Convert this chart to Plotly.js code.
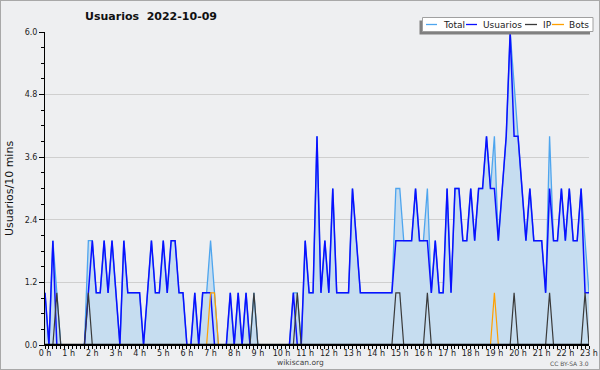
<!DOCTYPE html>
<html>
<head>
<meta charset="utf-8">
<script src="https://cdn.plot.ly/plotly-3.0.1.min.js"></script>
<style>
  html, body { margin: 0; padding: 0; background: #eeeff1; }
  #wrap { position: relative; width: 600px; height: 370px; }
  #chart { width: 600px; height: 370px; }
  #frame { position: absolute; left: 0; top: 0; width: 600px; height: 370px; box-sizing: border-box; border: 1px solid #a8a8a8; pointer-events: none; }
</style>
</head>
<body>
<div id="wrap"><div id="chart"></div><div id="frame"></div></div>
<script>
// ---- data: one value per 10-minute slot, starting at 0 h ----
const stepMinutes = 10;
const total = [
  1,0,2,1,0,0,0,0,0,0,
  0,2,2,1,1,2,1,2,1,0,
  2,1,1,1,1,0,1,2,1,1,
  2,1,2,2,1,1,0,0,1,0,
  1,1,2,1,0,0,0,1,0,1,
  0,1,0,1,0,0,0,0,0,0,
  0,0,0,1,1,0,2,1,1,4,
  1,2,1,3,1,1,1,1,3,2,
  1,1,1,1,1,1,1,1,1,3,
  3,2,2,2,3,2,2,3,1,2,
  1,1,3,1,3,3,2,2,3,2,
  3,3,4,3,4,2,3,4,6,5,
  4,3,2,3,2,2,2,1,4,2,
  2,3,2,3,2,2,3,2,1
];
const usuarios = [
  1,0,2,0,0,0,0,0,0,0,
  0,1,2,1,1,2,1,2,1,0,
  2,1,1,1,1,0,1,2,1,1,
  2,1,2,2,1,1,0,0,1,0,
  1,1,1,0,0,0,0,1,0,1,
  0,1,0,0,0,0,0,0,0,0,
  0,0,0,1,0,0,2,1,1,4,
  1,2,1,3,1,1,1,1,3,2,
  1,1,1,1,1,1,1,1,1,2,
  2,2,2,2,3,2,2,2,1,2,
  1,1,3,1,3,3,2,2,3,2,
  3,3,4,3,3,2,3,4,6,4,
  4,3,2,3,2,2,2,1,3,2,
  2,3,2,3,2,2,3,1,1
];
const ip = [
  0,0,0,1,0,0,0,0,0,0,
  0,1,0,0,0,0,0,0,0,0,
  0,0,0,0,0,0,0,0,0,0,
  0,0,0,0,0,0,0,0,0,0,
  0,0,0,0,0,0,0,0,0,0,
  0,0,0,1,0,0,0,0,0,0,
  0,0,0,0,1,0,0,0,0,0,
  0,0,0,0,0,0,0,0,0,0,
  0,0,0,0,0,0,0,0,0,1,
  1,0,0,0,0,0,0,1,0,0,
  0,0,0,0,0,0,0,0,0,0,
  0,0,0,0,0,0,0,0,0,1,
  0,0,0,0,0,0,0,0,1,0,
  0,0,0,0,0,0,0,1,0
];
const bots = [
  0,0,0,0,0,0,0,0,0,0,
  0,0,0,0,0,0,0,0,0,0,
  0,0,0,0,0,0,0,0,0,0,
  0,0,0,0,0,0,0,0,0,0,
  0,0,1,1,0,0,0,0,0,0,
  0,0,0,0,0,0,0,0,0,0,
  0,0,0,0,0,0,0,0,0,0,
  0,0,0,0,0,0,0,0,0,0,
  0,0,0,0,0,0,0,0,0,0,
  0,0,0,0,0,0,0,0,0,0,
  0,0,0,0,0,0,0,0,0,0,
  0,0,0,0,1,0,0,0,0,0,
  0,0,0,0,0,0,0,0,0,0,
  0,0,0,0,0,0,0,0,0
];
const seriesNames = ['Total', 'Usuarios', 'IP', 'Bots'];
const hourTicks = [0,1,2,3,4,5,6,7,8,9,10,11,12,13,14,15,16,17,18,19,20,21,22,23];
const hourLabels = hourTicks.map(h => h + ' h');
const yTicks = [0, 1.2, 2.4, 3.6, 4.8, 6.0];
const yLabels = ['0.0', '1.2', '2.4', '3.6', '4.8', '6.0'];
const titleText = 'Usuarios\u00a0\u00a02022-10-09';

// x in hours from slot index
const slotHours = total.map((_, i) => i * stepMinutes / 60);

// ---- styling ----
const colors = { Total: '#4ea5ee', Usuarios: '#0a10ff', IP: '#3a3a3a', Bots: '#ffa000' };
const BG = '#eeeff1';
const FONT = 'DejaVu Sans, Verdana, sans-serif';

const W = 600, H = 370;
const M = { l: 45, r: 11, t: 32, b: 25 };
const PW = W - M.l - M.r, PH = H - M.t - M.b;
const px = x => (x - M.l) / PW;
const py = y => (H - M.b - y) / PH;

const traces = [
  { x: slotHours, y: total, name: seriesNames[0], type: 'scatter', mode: 'lines',
    fill: 'tozeroy', fillcolor: '#c6ddf0', line: { color: colors.Total, width: 1.3 } },
  { x: slotHours, y: usuarios, name: seriesNames[1], type: 'scatter', mode: 'lines',
    line: { color: colors.Usuarios, width: 1.5 } },
  { x: slotHours, y: ip, name: seriesNames[2], type: 'scatter', mode: 'lines',
    line: { color: colors.IP, width: 1.2 } },
  { x: slotHours, y: bots, name: seriesNames[3], type: 'scatter', mode: 'lines',
    line: { color: colors.Bots, width: 1.2 } }
];

// legend drawn by hand (compact pChart-like box)
const lgBox = { x0: 422.5, x1: 593, y0: 17.5, y1: 31.5 };
const lgY = 24.5;
const lgItems = [
  { name: seriesNames[0], lx0: 426, lx1: 437, tx: 441.5 },
  { name: seriesNames[1], lx0: 466, lx1: 477, tx: 482 },
  { name: seriesNames[2], lx0: 525, lx1: 537, tx: 541.5 },
  { name: seriesNames[3], lx0: 552, lx1: 564, tx: 567.5 }
];
const shapes = [
  // baseline drawn over the zero-valued lines, like the axis in the original
  { type: 'line', xref: 'paper', yref: 'paper', layer: 'above',
    x0: 0, x1: 1, y0: py(344.6), y1: py(344.6), line: { color: '#000', width: 1.6 } },
  { type: 'rect', xref: 'paper', yref: 'paper', layer: 'above',
    x0: px(lgBox.x0 - 3), x1: px(lgBox.x1 - 3), y0: py(lgBox.y0 + 3), y1: py(lgBox.y1 + 3),
    fillcolor: '#808080', line: { width: 0 } },
  { type: 'rect', xref: 'paper', yref: 'paper', layer: 'above',
    x0: px(lgBox.x0), x1: px(lgBox.x1), y0: py(lgBox.y0), y1: py(lgBox.y1),
    fillcolor: '#ffffff', line: { color: '#a0a0a0', width: 1 } }
];
const annotations = [];
lgItems.forEach(it => {
  shapes.push({ type: 'line', xref: 'paper', yref: 'paper', layer: 'above',
    x0: px(it.lx0), x1: px(it.lx1), y0: py(lgY), y1: py(lgY),
    line: { color: colors[it.name], width: 1.3 } });
  annotations.push({ xref: 'paper', yref: 'paper', x: px(it.tx), y: py(lgY),
    xanchor: 'left', yanchor: 'middle', showarrow: false, text: it.name,
    font: { family: FONT, size: 9, color: '#222' }, borderpad: 0 });
});
annotations.push({ xref: 'paper', yref: 'paper', x: px(300), y: py(362),
  xanchor: 'center', yanchor: 'middle', showarrow: false, text: 'wikiscan.org',
  font: { family: FONT, size: 7.5, color: '#444' }, borderpad: 0 });
annotations.push({ xref: 'paper', yref: 'paper', x: px(590), y: py(363.5),
  xanchor: 'right', yanchor: 'middle', showarrow: false, text: 'CC BY-SA 3.0',
  font: { family: FONT, size: 6, color: '#555' }, borderpad: 0 });

const layout = {
  width: W, height: H,
  margin: M,
  paper_bgcolor: BG, plot_bgcolor: BG,
  showlegend: false,
  title: { text: titleText, x: 151 / W, xanchor: 'center', y: 1 - 16.5 / H, yanchor: 'middle',
    font: { family: FONT, size: 11, color: '#111', weight: 'bold' } },
  xaxis: {
    range: [0, 23], fixedrange: true,
    tickvals: hourTicks, ticktext: hourLabels,
    ticks: 'outside', ticklen: 3, tickcolor: '#000', tickwidth: 1,
    ticklabelstandoff: -3,
    showline: true, linecolor: '#000', linewidth: 1,
    showgrid: false, zeroline: false, layer: 'above traces',
    tickfont: { family: FONT, size: 8, color: '#222' },
    minor: { dtick: stepMinutes / 60, tick0: 0, ticks: 'outside', ticklen: 3, tickcolor: '#000', showgrid: false }
  },
  yaxis: {
    range: [0, 6], fixedrange: true,
    tickvals: yTicks, ticktext: yLabels,
    ticks: 'outside', ticklen: 5, tickcolor: '#000', tickwidth: 1,
    showline: true, linecolor: '#000', linewidth: 1,
    showgrid: true, gridcolor: '#cfcfcf', gridwidth: 1, zeroline: false,
    layer: 'above traces',
    tickfont: { family: FONT, size: 8, color: '#222' },
    minor: { dtick: 0.3, tick0: 0, ticks: 'outside', ticklen: 3, tickcolor: '#000', showgrid: false },
    title: { text: 'Usuarios/10 mins', font: { family: FONT, size: 11, color: '#111' }, standoff: 8 }
  },
  shapes: shapes,
  annotations: annotations
};

Plotly.newPlot('chart', traces, layout, { staticPlot: true, displayModeBar: false });
</script>
</body>
</html>
